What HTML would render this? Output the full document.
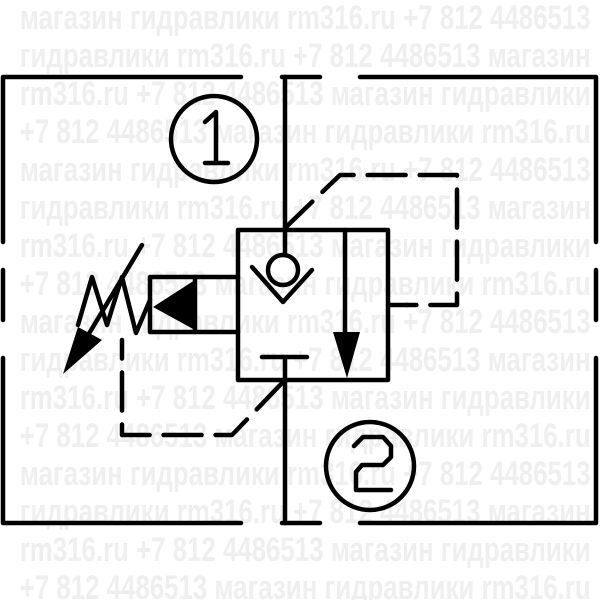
<!DOCTYPE html>
<html><head><meta charset="utf-8"><style>
html,body{margin:0;padding:0;background:#fff;width:600px;height:600px;overflow:hidden}
svg{display:block}
.wm{font-family:"Liberation Sans",sans-serif;font-weight:bold;font-size:34px;fill:#efefef}
</style></head><body>
<svg width="600" height="600" viewBox="0 0 600 600" xmlns="http://www.w3.org/2000/svg">
<g class="wm" transform="scale(0.76,1)">
<text x="26" y="29">магазин гидравлики rm316.ru +7 812 4486513</text>
<text x="26" y="67">гидравлики rm316.ru +7 812 4486513 магазин</text>
<text x="26" y="105">rm316.ru +7 812 4486513 магазин гидравлики</text>
<text x="26" y="143">+7 812 4486513 магазин гидравлики rm316.ru</text>
<text x="26" y="181">магазин гидравлики rm316.ru +7 812 4486513</text>
<text x="26" y="219">гидравлики rm316.ru +7 812 4486513 магазин</text>
<text x="26" y="257">rm316.ru +7 812 4486513 магазин гидравлики</text>
<text x="26" y="295">+7 812 4486513 магазин гидравлики rm316.ru</text>
<text x="26" y="333">магазин гидравлики rm316.ru +7 812 4486513</text>
<text x="26" y="371">гидравлики rm316.ru +7 812 4486513 магазин</text>
<text x="26" y="409">rm316.ru +7 812 4486513 магазин гидравлики</text>
<text x="26" y="447">+7 812 4486513 магазин гидравлики rm316.ru</text>
<text x="26" y="485">магазин гидравлики rm316.ru +7 812 4486513</text>
<text x="26" y="523">гидравлики rm316.ru +7 812 4486513 магазин</text>
<text x="26" y="561">rm316.ru +7 812 4486513 магазин гидравлики</text>
<text x="26" y="599">+7 812 4486513 магазин гидравлики rm316.ru</text>
</g>
<g stroke="#000" stroke-width="4.5" fill="none" stroke-linecap="round" stroke-linejoin="round">
<path d="M241,77 H3 V242 M3,270 V320 M3,358 V523 H241"/>
<path d="M360,77 H596 V242 M596,270 V320 M596,358 V523 H360"/>
<path d="M282,77 H320 M282,523 H320"/>
<path d="M285,77 V230 M285,380 V523"/>
<rect x="238" y="230" width="150" height="150"/>
<path d="M285,230 V255"/>
<circle cx="283" cy="270" r="15"/>
<path d="M252,267 L283,302 L312,270"/>
<path d="M345,230 V340"/>
<path d="M262,357 H307 M285,357 V380"/>
<path d="M388,305 H407"/>
<path d="M238,277 H150 V332 H238"/>
<path d="M195,277 V332"/>
<path d="M78,325 L92,277 L107,325 L122,277 L136,333 L150,300"/>
<path d="M142,245 L78,352"/>
<path d="M285,228 L340,175 H457 V305 H407" stroke-dasharray="38,14"/>
<path d="M283,382 L232,435 H122 V340" stroke-dasharray="38,14"/>
<circle cx="214" cy="139" r="43"/>
<path d="M205,122 L216,112 V163 M205,163 H228"/>
<circle cx="370" cy="466" r="44"/>
<path d="M354,446 L363,437 L383,437 L391,446 L391,457 L383,465 L362,465 L356,472 L356,490 L391,490"/>
</g>
<g fill="#000">
<polygon points="153,307 195,280 195,330"/>
<polygon points="333,332 360,332 347,378"/>
<polygon points="63,374 78,327 102,340"/>
</g>
</svg>
</body></html>
